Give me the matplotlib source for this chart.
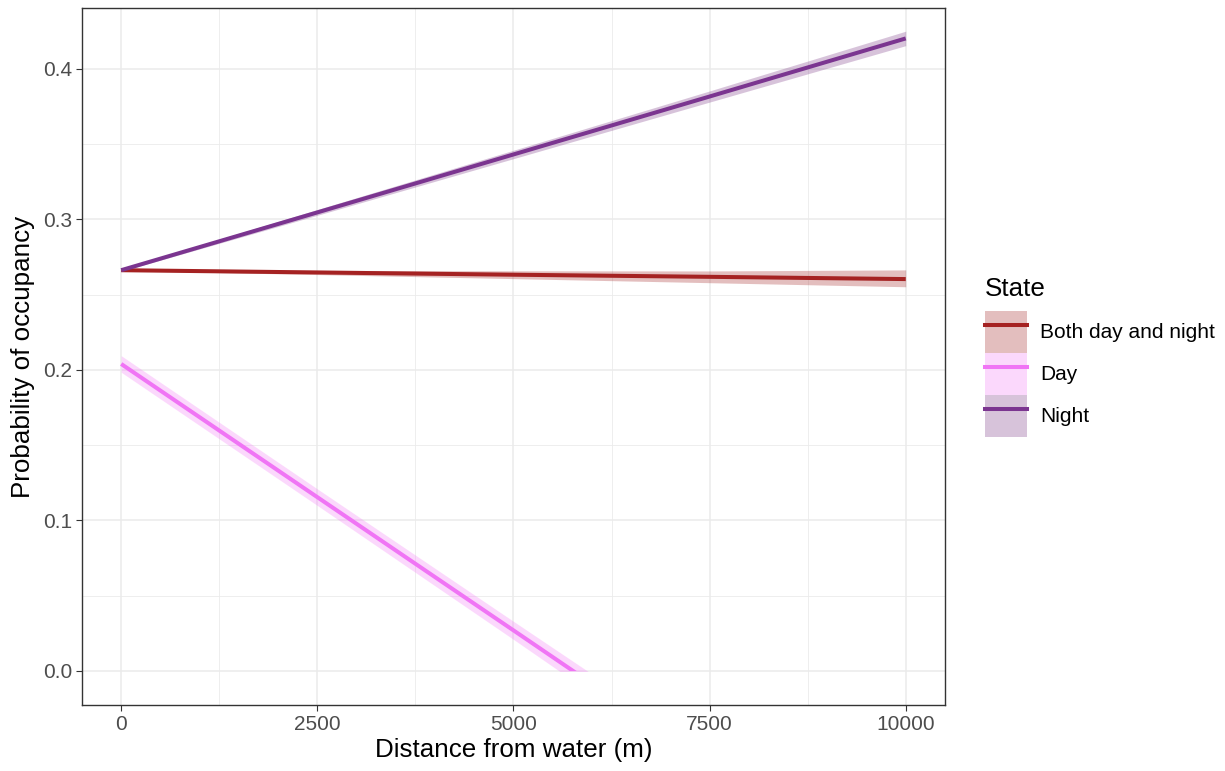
import numpy as np
import matplotlib
matplotlib.use("Agg")
import matplotlib.pyplot as plt
from matplotlib.patches import Patch, Rectangle
from matplotlib.lines import Line2D
from matplotlib.legend_handler import HandlerTuple

plt.rcParams['font.family'] = ['Liberation Sans', 'DejaVu Sans']

# distance from water (m)
dist = [0, 2500, 5000, 7500, 10000]

# Both day and night
both_fit = [0.2663, 0.2648, 0.2633, 0.2619, 0.2604]
both_lo = [0.2660, 0.2634, 0.2607, 0.2580, 0.2553]
both_hi = [0.2666, 0.2662, 0.2659, 0.2658, 0.2665]

# Night
night_fit = [0.2663, 0.3047, 0.3432, 0.3817, 0.4203]
night_lo = [0.2655, 0.3028, 0.3404, 0.3780, 0.4155]
night_hi = [0.2671, 0.3066, 0.3460, 0.3854, 0.4251]

# Day (ends where prediction reaches 0)
day_dist = [0, 2500, 5000, 6000]
day_fit = [0.2040, 0.1155, 0.0270, -0.0085]
day_lo = [0.1985, 0.1100, 0.0210, -0.0150]
day_hi = [0.2095, 0.1210, 0.0330, -0.0020]

states = ["Both day and night", "Day", "Night"]
line_cols = ["#A52222", "#F075F5", "#7B3590"]
fill_cols = ["#A52A2A", "#F57EF7", "#7D3A87"]

fig = plt.figure(figsize=(12.25, 7.71), dpi=100)
ax = fig.add_axes([0.0669, 0.0856, 0.7045, 0.904])

series = [(dist, both_fit, both_lo, both_hi),
          (day_dist, day_fit, day_lo, day_hi),
          (dist, night_fit, night_lo, night_hi)]

handles = []
for (x, y, lo, hi), lc, fc in zip(series, line_cols, fill_cols):
    band = ax.fill_between(x, lo, hi, color=fc, alpha=0.3, lw=0, zorder=2)
    ln, = ax.plot(x, y, color=lc, lw=2.9, zorder=3, solid_capstyle='butt')
    # values below 0 are dropped (y scale starts at 0)
    clip = Rectangle((-1000, 0), 12000, 1, transform=ax.transData)
    band.set_clip_path(clip)
    ln.set_clip_path(clip)
    handles.append((Patch(facecolor=fc, alpha=0.3, lw=0),
                    Line2D([], [], color=lc, lw=2.9)))

ax.set_xlim(-500, 10500)
ax.set_ylim(-0.0226, 0.4405)
ax.set_xticks([0, 2500, 5000, 7500, 10000])
ax.set_xticks([1250, 3750, 6250, 8750], minor=True)
ax.set_yticks([0.0, 0.1, 0.2, 0.3, 0.4])
ax.set_yticks([0.05, 0.15, 0.25, 0.35], minor=True)
ax.set_yticklabels(["0.0", "0.1", "0.2", "0.3", "0.4"])
ax.grid(which='major', color='#EBEBEB', lw=1.1, zorder=0)
ax.grid(which='minor', color='#EBEBEB', lw=0.6, zorder=0)
ax.set_axisbelow(True)
for s in ax.spines.values():
    s.set_color('#333333')
    s.set_linewidth(1.0)
ax.tick_params(which='major', length=4, color='#333333', labelsize=15, labelcolor='#4D4D4D', pad=3)
ax.tick_params(which='minor', length=0)

ax.set_xlabel("Distance from water (m)", fontsize=18.7, labelpad=3)
ax.set_ylabel("Probability of occupancy", fontsize=18.7, labelpad=6)

leg = fig.legend(handles, states, title="State", loc='upper left',
                 bbox_to_anchor=(0.797, 0.651), frameon=False,
                 fontsize=15, title_fontsize=18.7,
                 handler_map={tuple: HandlerTuple(ndivide=1, pad=0)},
                 handlelength=2.05, handleheight=2.72, labelspacing=0.0,
                 handletextpad=0.6, borderaxespad=0)
leg._legend_box.align = "left"
leg._legend_box.sep = 7

fig.savefig("out.png", dpi=100)
